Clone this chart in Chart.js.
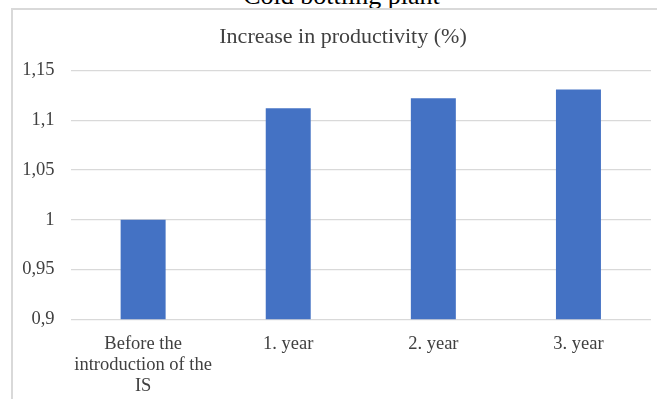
<!DOCTYPE html>
<html>
<head>
<meta charset="utf-8">
<script src="https://cdn.jsdelivr.net/npm/chart.js@4"></script>
<style>
  html, body { margin: 0; padding: 0; background: #fff; }
  body { width: 657px; height: 399px; overflow: hidden; position: relative; }
  #caption {
    position: absolute; left: 0; top: -17px; width: 683px;
    text-align: center; font-family: "Liberation Serif", "Times New Roman", serif;
    font-size: 26px; line-height: 26px; color: #000; z-index: 0; white-space: nowrap;
  }
  #frame {
    position: absolute; left: 11px; top: 8px; width: 700px; height: 450px;
    border: 2px solid #d9d9d9; background: #fff; z-index: 1;
  }
  #wrap { position: absolute; left: 12px; top: 9px; width: 662px; height: 420px; z-index: 2; }
</style>
</head>
<body>
<div id="caption">Cold bottling plant</div>
<div id="frame"></div>
<div id="wrap"><canvas id="c"></canvas></div>
<script>
// Productivity index per period
const categories = [["Before the", "introduction of the", "IS"], "1. year", "2. year", "3. year"];
const productivity = [1, 1.112, 1.122, 1.131];
const yTicks = [0.9, 0.95, 1, 1.05, 1.1, 1.15];
const chartTitle = 'Increase in productivity (%)';

const serif = '"Liberation Serif", "Times New Roman", serif';
const textColor = '#404040';

const fmt = v => String(Math.round(v * 100) / 100).replace('.', ',');

// Heading centred on the whole chart frame rather than the plot box
const headingPlugin = {
  id: 'heading',
  afterDraw(chart) {
    const ctx = chart.ctx;
    ctx.save();
    ctx.font = '22px ' + serif;
    ctx.fillStyle = textColor;
    ctx.textAlign = 'center';
    ctx.textBaseline = 'alphabetic';
    ctx.fillText(chartTitle, chart.width / 2, 34);
    ctx.restore();
  }
};

new Chart(document.getElementById('c'), {
  type: 'bar',
  data: {
    labels: categories,
    datasets: [{
      data: productivity,
      backgroundColor: '#4472C4',
      borderWidth: 0,
      barPercentage: 0.31,
      categoryPercentage: 1
    }]
  },
  plugins: [headingPlugin],
  options: {
    responsive: true,
    maintainAspectRatio: false,
    animation: false,
    layout: { padding: { left: -5.8, right: 23, top: 61.5, bottom: 18 } },
    plugins: {
      legend: { display: false },
      tooltip: { enabled: false },
      title: { display: false }
    },
    scales: {
      x: {
        grid: { display: false, drawTicks: false },
        border: { display: false },
        ticks: {
          color: textColor,
          font: { family: serif, size: 18.5, lineHeight: 1.15 },
          padding: 14,
          maxRotation: 0,
          autoSkip: false
        }
      },
      y: {
        min: yTicks[0],
        max: yTicks[yTicks.length - 1],
        afterBuildTicks: axis => { axis.ticks = yTicks.map(v => ({ value: v })); },
        grid: { color: '#d9d9d9', lineWidth: 1.3, drawTicks: false },
        border: { display: false },
        ticks: {
          color: textColor,
          font: { family: serif, size: 18.5 },
          padding: 16,
          callback: v => fmt(v)
        }
      }
    }
  }
});
</script>
</body>
</html>
